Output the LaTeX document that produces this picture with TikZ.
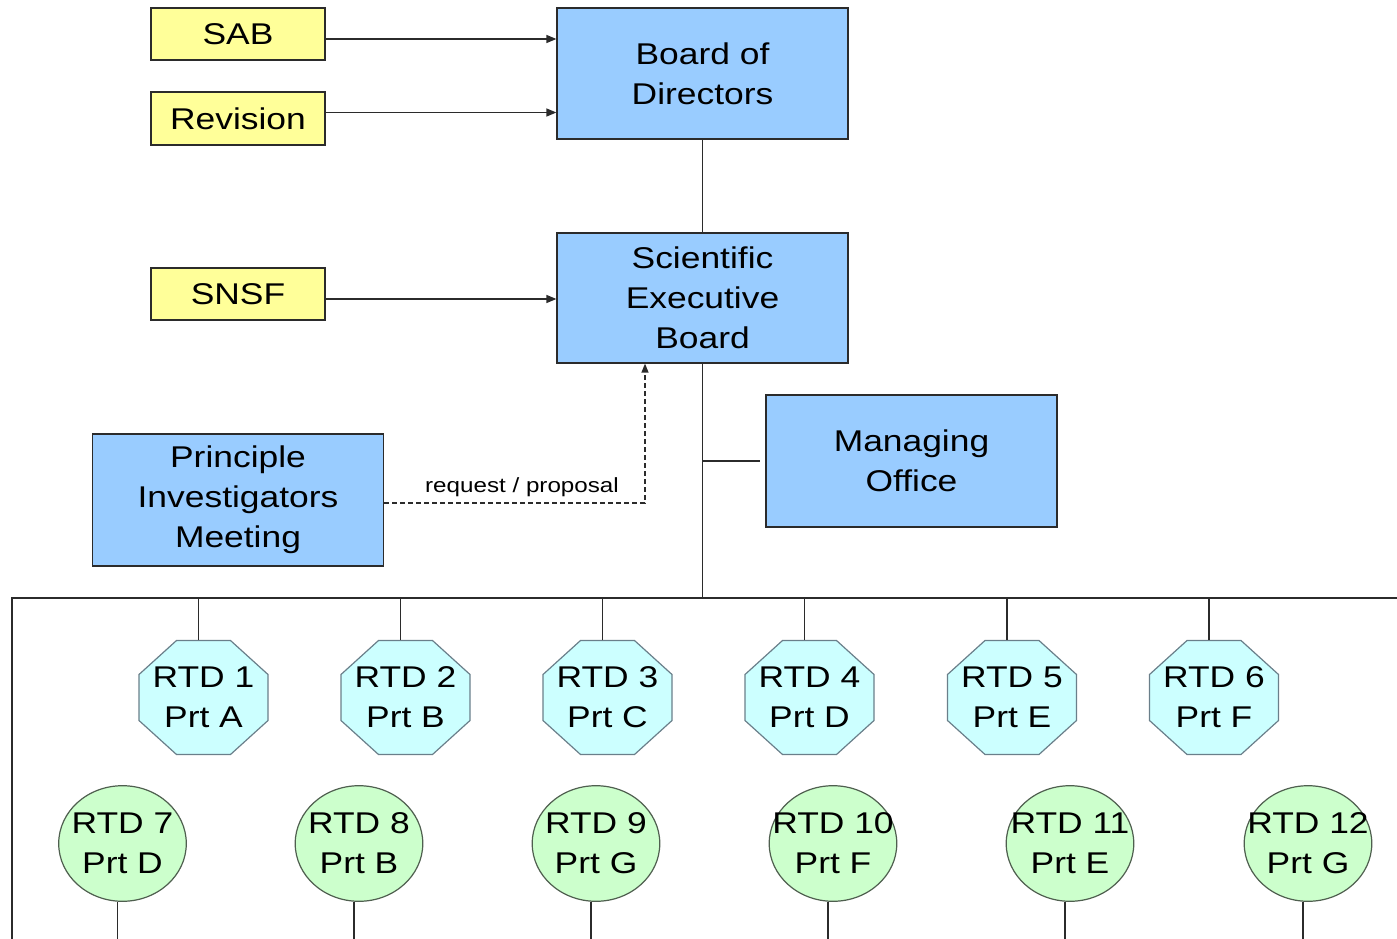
\documentclass[tikz,border=0pt]{standalone}
\usepackage{fontspec}
\setmainfont{Liberation Sans}[FakeStretch=1.18]
\usetikzlibrary{arrows.meta}
\definecolor{yel}{HTML}{FFFF99}
\definecolor{blu}{HTML}{99CCFF}
\definecolor{cya}{HTML}{CCFFFF}
\definecolor{grn}{HTML}{CCFFCC}
\definecolor{ln}{HTML}{2B2B2B}
\definecolor{octline}{HTML}{6A7F8A}
\definecolor{circline}{HTML}{4F5F4F}
\newcommand\rtdfont{\fontsize{30}{40}\selectfont}
\newcommand\smallfnt{\fontsize{20.5}{24}\selectfont}
\newcommand\octagonat[1]{%
  \filldraw[fill=cya, draw=octline, line width=1.2pt, shift={(#1)}]
    (-27pt,57pt) -- (27pt,57pt) -- (64.5pt,23pt) -- (64.5pt,-23pt) -- (27pt,-57pt)
    -- (-27pt,-57pt) -- (-64.5pt,-23pt) -- (-64.5pt,23pt) -- cycle;}
\tikzset{
  ybox/.style={draw=ln, fill=yel, line width=1.2pt, minimum width=174pt, minimum height=52pt, inner sep=0pt, font=\rtdfont},
  bbox/.style={draw=ln, fill=blu, line width=1.2pt, minimum width=291pt, minimum height=131pt, inner sep=0pt, align=center, font=\rtdfont},
  octo/.style={minimum width=130pt, minimum height=115pt, inner sep=0pt, align=center, font=\rtdfont},
  circ/.style={minimum width=129pt, minimum height=117pt, inner sep=0pt, align=center, font=\rtdfont,
    path picture={\filldraw[fill=grn, draw=circline, line width=1.2pt] (path picture bounding box.center) ellipse [x radius=63.8pt, y radius=57.8pt];}},
  conn/.style={draw=ln, line width=1.3pt},
  arr/.style={conn, -{Triangle[length=10pt,width=8pt]}},
  darr/.style={conn, dash pattern=on 5pt off 3pt, -{Triangle[length=9pt,width=7pt]}}
}
\begin{document}
\begin{tikzpicture}[x=1pt, y=-1pt]
\useasboundingbox (0,0) rectangle (1397,939);
% yellow boxes
\node[ybox] (sab) at (238,34) {SAB};
\node[ybox, minimum height=53pt] (rev) at (238,118.5) {Revision};
\node[ybox] (snsf) at (238,294) {SNSF};
% blue boxes
\node[bbox] (bod) at (702.5,73.5) {Board of\\Directors};
\node[bbox, minimum height=130pt] (seb) at (702.5,298) {Scientific\\Executive\\Board};
\node[bbox, minimum height=132pt] (mo) at (911.5,461) {Managing\\Office};
\node[bbox, minimum height=132pt] (pim) at (238,500) {Principle\\Investigators\\Meeting};
% arrows into boards
\draw[arr] ([yshift=-5pt]sab.east) -- ([yshift=-5pt]sab.east -| bod.west);
\draw[arr] ([yshift=6pt]rev.east) -- ([yshift=6pt]rev.east -| bod.west);
\draw[arr] ([yshift=-5pt]snsf.east) -- ([yshift=-5pt]snsf.east -| seb.west);
% board chain
\draw[conn] (bod.south) -- (seb.north);
\coordinate (busL) at (12,598);
\coordinate (busR) at (1397,598);
\coordinate (bot) at (0,939);
\draw[conn] (seb.south) -- (seb.south |- busL);
\draw[conn] (seb.south |- mo.west) -- ([xshift=-5pt]mo.west);
\draw[conn] (12,939) -- (busL) -- (busR);
% dashed request
\coordinate (dd) at (645,503);
\draw[darr] (pim.east |- dd) -- (dd) -- (dd |- seb.south);
\node[font=\smallfnt, inner sep=0pt] (lbl) at (522,487) {request / proposal};
% octagons
\coordinate (p1) at (203.5,697.5);
\coordinate (p2) at (405.5,697.5);
\coordinate (p3) at (607.5,697.5);
\coordinate (p4) at (809.5,697.5);
\coordinate (p5) at (1012,697.5);
\coordinate (p6) at (1214,697.5);
\foreach \p in {p1,p2,p3,p4,p5,p6} {\octagonat{\p}}
\node[octo] (o1) at (p1) {RTD 1\\Prt A};
\node[octo] (o2) at (p2) {RTD 2\\Prt B};
\node[octo] (o3) at (p3) {RTD 3\\Prt C};
\node[octo] (o4) at (p4) {RTD 4\\Prt D};
\node[octo] (o5) at (p5) {RTD 5\\Prt E};
\node[octo] (o6) at (p6) {RTD 6\\Prt F};
\foreach \o in {o1,o2,o3,o4,o5,o6}
  \draw[conn] ([xshift=-5pt]\o.north) -- ([xshift=-5pt]\o.north |- busL);
% circles
\node[circ] (c7) at (122.5,843.5) {RTD 7\\Prt D};
\node[circ] (c8) at (359,843.5) {RTD 8\\Prt B};
\node[circ] (c9) at (596,843.5) {RTD 9\\Prt G};
\node[circ] (c10) at (833,843.5) {RTD 10\\Prt F};
\node[circ] (c11) at (1070,843.5) {RTD 11\\Prt E};
\node[circ] (c12) at (1308,843.5) {RTD 12\\Prt G};
\foreach \c in {c7,c8,c9,c10,c11,c12}
  \draw[conn] ([xshift=-5pt]\c.south) -- ([xshift=-5pt]\c.south |- bot);
\end{tikzpicture}
\end{document}
